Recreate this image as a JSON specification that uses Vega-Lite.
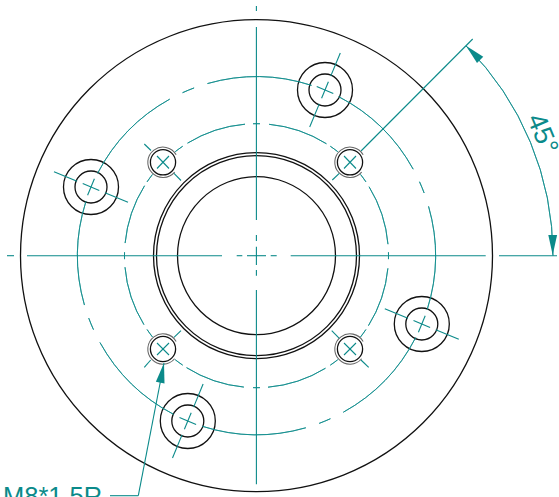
{"$schema":"https://vega.github.io/schema/vega-lite/v6.json","width":559,"height":497,"padding":0,"autosize":{"type":"none"},"background":"white","view":{"stroke":null},
"config":{"axis":{"domain":false}},
"datasets":{
"arcs":[
{"cx":256.5,"cy":255.7,"r":236,"from":0,"to":360,"kind":"outline"},
{"cx":256.5,"cy":255.7,"r":103,"from":0,"to":360,"kind":"outline"},
{"cx":256.5,"cy":255.7,"r":100,"from":0,"to":360,"kind":"outline"},
{"cx":256.5,"cy":255.7,"r":79,"from":0,"to":360,"kind":"outline"},
{"cx":325,"cy":90,"r":27.5,"from":0,"to":360,"kind":"outline"},
{"cx":325,"cy":90,"r":16,"from":0,"to":360,"kind":"outline"},
{"cx":91,"cy":187,"r":27.5,"from":0,"to":360,"kind":"outline"},
{"cx":91,"cy":187,"r":16,"from":0,"to":360,"kind":"outline"},
{"cx":421.8,"cy":324,"r":27.5,"from":0,"to":360,"kind":"outline"},
{"cx":421.8,"cy":324,"r":16,"from":0,"to":360,"kind":"outline"},
{"cx":187.8,"cy":421,"r":27.5,"from":0,"to":360,"kind":"outline"},
{"cx":187.8,"cy":421,"r":16,"from":0,"to":360,"kind":"outline"},
{"cx":163,"cy":162.3,"r":12.6,"from":0,"to":360,"kind":"outline"},
{"cx":350,"cy":162.3,"r":12.6,"from":0,"to":360,"kind":"outline"},
{"cx":163,"cy":349,"r":12.6,"from":0,"to":360,"kind":"outline"},
{"cx":350,"cy":349,"r":12.6,"from":0,"to":360,"kind":"outline"},
{"cx":163,"cy":162.3,"r":15.2,"from":130,"to":420,"kind":"thread"},
{"cx":350,"cy":162.3,"r":15.2,"from":130,"to":420,"kind":"thread"},
{"cx":163,"cy":349,"r":15.2,"from":130,"to":420,"kind":"thread"},
{"cx":350,"cy":349,"r":15.2,"from":130,"to":420,"kind":"thread"},
{"cx":256.5,"cy":255.7,"r":179,"from":-15.9,"to":17.9,"kind":"center"},
{"cx":256.5,"cy":255.7,"r":179,"from":27.3,"to":61.1,"kind":"center"},
{"cx":256.5,"cy":255.7,"r":179,"from":65.6,"to":69.5,"kind":"center"},
{"cx":256.5,"cy":255.7,"r":179,"from":74,"to":107.5,"kind":"center"},
{"cx":256.5,"cy":255.7,"r":179,"from":117.2,"to":151,"kind":"center"},
{"cx":256.5,"cy":255.7,"r":179,"from":155.6,"to":159.5,"kind":"center"},
{"cx":256.5,"cy":255.7,"r":179,"from":164,"to":197.6,"kind":"center"},
{"cx":256.5,"cy":255.7,"r":179,"from":207.6,"to":241,"kind":"center"},
{"cx":256.5,"cy":255.7,"r":179,"from":245.6,"to":249.6,"kind":"center"},
{"cx":256.5,"cy":255.7,"r":179,"from":254,"to":287.6,"kind":"center"},
{"cx":256.5,"cy":255.7,"r":179,"from":297.4,"to":331,"kind":"center"},
{"cx":256.5,"cy":255.7,"r":179,"from":335.6,"to":339.6,"kind":"center"},
{"cx":256.5,"cy":255.7,"r":132,"from":-1.5,"to":1.5,"kind":"center"},
{"cx":256.5,"cy":255.7,"r":132,"from":5.5,"to":32,"kind":"center"},
{"cx":256.5,"cy":255.7,"r":132,"from":34,"to":38,"kind":"center"},
{"cx":256.5,"cy":255.7,"r":132,"from":52,"to":56,"kind":"center"},
{"cx":256.5,"cy":255.7,"r":132,"from":58.5,"to":85,"kind":"center"},
{"cx":256.5,"cy":255.7,"r":132,"from":88.5,"to":91.5,"kind":"center"},
{"cx":256.5,"cy":255.7,"r":132,"from":95.5,"to":122,"kind":"center"},
{"cx":256.5,"cy":255.7,"r":132,"from":124,"to":128,"kind":"center"},
{"cx":256.5,"cy":255.7,"r":132,"from":142,"to":146,"kind":"center"},
{"cx":256.5,"cy":255.7,"r":132,"from":148.5,"to":175,"kind":"center"},
{"cx":256.5,"cy":255.7,"r":132,"from":178.5,"to":181.5,"kind":"center"},
{"cx":256.5,"cy":255.7,"r":132,"from":185.5,"to":212,"kind":"center"},
{"cx":256.5,"cy":255.7,"r":132,"from":214,"to":218,"kind":"center"},
{"cx":256.5,"cy":255.7,"r":132,"from":232,"to":236,"kind":"center"},
{"cx":256.5,"cy":255.7,"r":132,"from":238.5,"to":265,"kind":"center"},
{"cx":256.5,"cy":255.7,"r":132,"from":268.5,"to":271.5,"kind":"center"},
{"cx":256.5,"cy":255.7,"r":132,"from":275.5,"to":302,"kind":"center"},
{"cx":256.5,"cy":255.7,"r":132,"from":304,"to":308,"kind":"center"},
{"cx":256.5,"cy":255.7,"r":132,"from":322,"to":326,"kind":"center"},
{"cx":256.5,"cy":255.7,"r":132,"from":328.5,"to":355,"kind":"center"},
{"cx":256.5,"cy":255.7,"r":296.5,"from":45,"to":90,"kind":"center"}
],
"segments":[
{"a":256.4,"b":6,"c":256.4,"d":11},{"a":256.4,"b":27,"c":256.4,"d":220},{"a":256.4,"b":235,"c":256.4,"d":241},{"a":256.4,"b":246.7,"c":256.4,"d":265},{"a":256.4,"b":270,"c":256.4,"d":275.7},{"a":256.4,"b":290,"c":256.4,"d":484.3},
{"a":7,"b":255.7,"c":14,"d":255.7},{"a":27,"b":255.7,"c":222,"d":255.7},{"a":236.7,"b":255.7,"c":242.3,"d":255.7},{"a":247,"b":255.7,"c":266,"d":255.7},{"a":270.7,"b":255.7,"c":276.7,"d":255.7},{"a":290.7,"b":255.7,"c":485.7,"d":255.7},{"a":499,"b":255.7,"c":557,"d":255.7},
{"a":330.7,"b":76.1,"c":340.3,"d":53},{"a":319.3,"b":103.9,"c":309.7,"d":127},{"a":328.4,"b":81.7,"c":321.6,"d":98.3},{"a":333.3,"b":93.4,"c":316.7,"d":86.6},
{"a":77.1,"b":181.3,"c":54,"d":171.7},{"a":104.9,"b":192.7,"c":128,"d":202.3},{"a":82.7,"b":183.6,"c":99.3,"d":190.4},{"a":94.4,"b":178.7,"c":87.6,"d":195.3},
{"a":435.7,"b":329.7,"c":458.8,"d":339.3},{"a":407.9,"b":318.3,"c":384.8,"d":308.7},{"a":430.1,"b":327.4,"c":413.5,"d":320.6},{"a":418.4,"b":332.3,"c":425.2,"d":315.7},
{"a":182,"b":434.9,"c":172.5,"d":458},{"a":193.6,"b":407.1,"c":203.1,"d":384},{"a":184.4,"b":429.3,"c":191.2,"d":412.7},{"a":196.1,"b":424.4,"c":179.5,"d":417.6},
{"a":144.3,"b":144,"c":151,"d":150.5},{"a":174,"b":173.3,"c":181,"d":180.5},{"a":157,"b":156,"c":169,"d":168.5},{"a":169,"b":156,"c":157,"d":168.5},
{"a":361,"b":151,"c":472.7,"d":39},{"a":332.3,"b":180,"c":339.3,"d":173.3},{"a":344,"b":156,"c":356,"d":168.5},{"a":356,"b":156,"c":344,"d":168.5},
{"a":144.3,"b":367.3,"c":150.7,"d":360},{"a":174,"b":337.3,"c":181,"d":330.7},{"a":157,"b":343,"c":169,"d":355},{"a":169,"b":343,"c":157,"d":355},
{"a":331.7,"b":330.7,"c":339.3,"d":338.3},{"a":361,"b":360,"c":368.7,"d":367.3},{"a":344,"b":343,"c":356,"d":355},{"a":356,"b":343,"c":344,"d":355},
{"a":164,"b":363,"c":138.3,"d":495.7},{"a":138.3,"b":495.7,"c":110,"d":495.7}
],
"arrows":[{"x":466,"y":45.7,"angle":-45},{"x":552.7,"y":255,"angle":180},{"x":164,"y":363,"angle":11}],
"labels":[{"x":3,"y":505,"text":"M8*1.5R","align":"left"},{"x":534.5,"y":137,"text":"45°","align":"center"}]
},
"encoding":{},
"layer":[
{"data":{"name":"arcs"},"mark":{"type":"arc","fill":null},
"encoding":{"x":{"field":"cx","type":"quantitative","scale":{"domain":[0,559],"range":[0,559],"nice":false,"zero":false},"axis":null},
"y":{"field":"cy","type":"quantitative","scale":{"domain":[0,497],"range":[0,497],"nice":false,"zero":false},"axis":null},
"radius":{"field":"r","type":"quantitative","scale":{"type":"linear","domain":[0,500],"range":[0,500]}},
"radius2":{"field":"r"},
"theta":{"field":"from","type":"quantitative","stack":null,"scale":{"domain":[0,360],"range":[0,6.283185307]}},
"theta2":{"field":"to"},
"stroke":{"field":"kind","type":"nominal","legend":null,"scale":{"domain":["outline","thread","center"],"range":["#111111","#666666","#0b8a8a"]}},
"strokeWidth":{"field":"kind","type":"nominal","legend":null,"scale":{"domain":["outline","thread","center"],"range":[1.3,0.8,1]}}}},
{"data":{"name":"segments"},"mark":{"type":"rule","color":"#0b8a8a","strokeWidth":1.1},
"encoding":{"x":{"field":"a","type":"quantitative","axis":null,"scale":{"domain":[0,559],"range":[0,559],"nice":false,"zero":false}},"y":{"field":"b","type":"quantitative","axis":null,"scale":{"domain":[0,497],"range":[0,497],"nice":false,"zero":false}},"x2":{"field":"c"},"y2":{"field":"d"}}},
{"data":{"name":"arrows"},"mark":{"type":"point","filled":true,"color":"#0b8a8a","opacity":1,"shape":"M0,0L-0.44,2L0.44,2Z","size":400,"strokeWidth":0},
"encoding":{"x":{"field":"x","type":"quantitative","axis":null,"scale":{"domain":[0,559],"range":[0,559],"nice":false,"zero":false}},"y":{"field":"y","type":"quantitative","axis":null,"scale":{"domain":[0,497],"range":[0,497],"nice":false,"zero":false}},"angle":{"field":"angle","type":"quantitative","scale":null}}},
{"data":{"name":"labels"},"transform":[{"filter":"datum.align=='left'"}],"mark":{"type":"text","font":"Liberation Sans","fontSize":25.5,"color":"#0b8a8a","align":"left","baseline":"alphabetic"},
"encoding":{"x":{"field":"x","type":"quantitative","axis":null,"scale":{"domain":[0,559],"range":[0,559],"nice":false,"zero":false}},"y":{"field":"y","type":"quantitative","axis":null,"scale":{"domain":[0,497],"range":[0,497],"nice":false,"zero":false}},"text":{"field":"text"}}},
{"data":{"name":"labels"},"transform":[{"filter":"datum.align=='center'"}],"mark":{"type":"text","font":"Liberation Sans","fontSize":27,"color":"#0b8a8a","align":"center","baseline":"alphabetic","angle":67.5},
"encoding":{"x":{"field":"x","type":"quantitative","axis":null,"scale":{"domain":[0,559],"range":[0,559],"nice":false,"zero":false}},"y":{"field":"y","type":"quantitative","axis":null,"scale":{"domain":[0,497],"range":[0,497],"nice":false,"zero":false}},"text":{"field":"text"}}}
]}
